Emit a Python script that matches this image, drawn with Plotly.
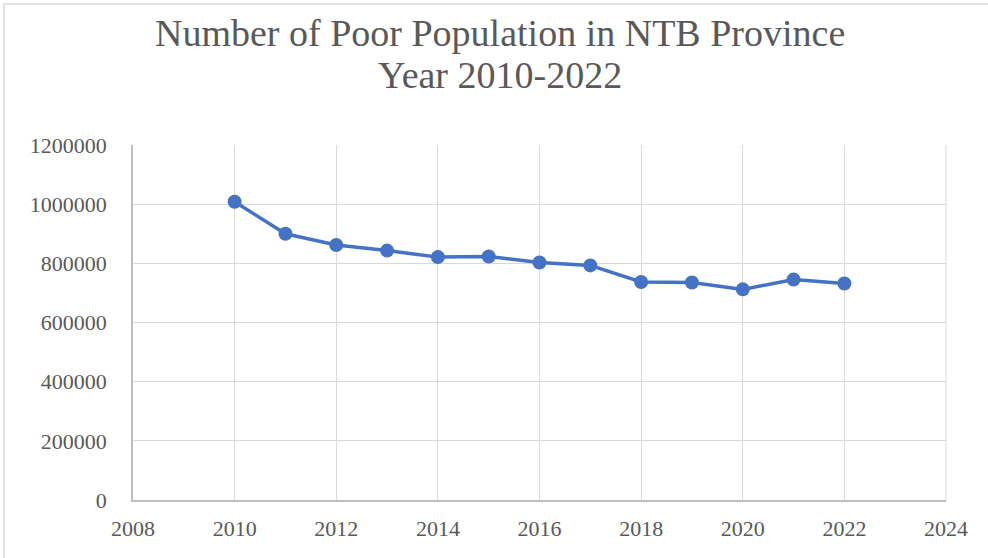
import plotly.graph_objects as go

years = [2010, 2011, 2012, 2013, 2014, 2015, 2016, 2017, 2018, 2019, 2020, 2021, 2022]
poor_population = [1008000, 900000, 862000, 843000, 821000, 823000, 803000, 793000, 737000, 735000, 712000, 745000, 732000]
x_ticks = [2008, 2010, 2012, 2014, 2016, 2018, 2020, 2022, 2024]
y_ticks = [0, 200000, 400000, 600000, 800000, 1000000, 1200000]
title_lines = ["Number of Poor Population in NTB Province", "Year 2010-2022"]

font_family = "Liberation Serif"
text_color = "#595959"
grid_color = "#d9d9d9"

fig = go.Figure()
fig.add_trace(go.Scatter(
    x=years, y=poor_population, mode="lines+markers",
    line=dict(color="#4472C4", width=3.5),
    marker=dict(color="#4472C4", size=14),
    showlegend=False,
))

fig.update_layout(
    width=988, height=558,
    paper_bgcolor="white", plot_bgcolor="white",
    margin=dict(l=133, r=42, t=145, b=58),
    font=dict(family=font_family, color=text_color, size=22),
)
for line_text, y_px in zip(title_lines, [33, 75]):
    fig.add_annotation(
        text=line_text, xref="paper", yref="paper",
        x=(500-133)/813, y=(500-y_px)/355, xanchor="center", yanchor="middle",
        showarrow=False, font=dict(family=font_family, size=38, color=text_color),
    )
fig.update_xaxes(
    range=[2008, 2024], tickvals=x_ticks, ticktext=[str(v) for v in x_ticks],
    showgrid=True, gridcolor=grid_color, gridwidth=1,
    showline=True, linecolor="#bfbfbf", linewidth=1.5,
    mirror=False, zeroline=False, ticks="", ticklabelstandoff=8,
    tickfont=dict(family=font_family, size=22, color=text_color),
)
fig.update_yaxes(
    range=[0, 1200000], tickvals=y_ticks, ticktext=[str(v) for v in y_ticks],
    showgrid=True, gridcolor=grid_color, gridwidth=1,
    showline=True, linecolor="#bfbfbf", linewidth=1.5,
    zeroline=False, ticks="", ticklabelstandoff=20,
    tickfont=dict(family=font_family, size=22, color=text_color),
)
fig.add_shape(type="line", xref="paper", yref="paper", x0=1, x1=1, y0=0, y1=1,
              line=dict(color=grid_color, width=1), layer="below")
fig.add_shape(type="rect", xref="paper", yref="paper",
              x0=(4-133)/813, x1=(995-133)/813, y0=(500-565)/355, y1=(500-4)/355,
              line=dict(color="#d9d9d9", width=1.5), fillcolor="rgba(0,0,0,0)")

fig.write_html("out.html")
